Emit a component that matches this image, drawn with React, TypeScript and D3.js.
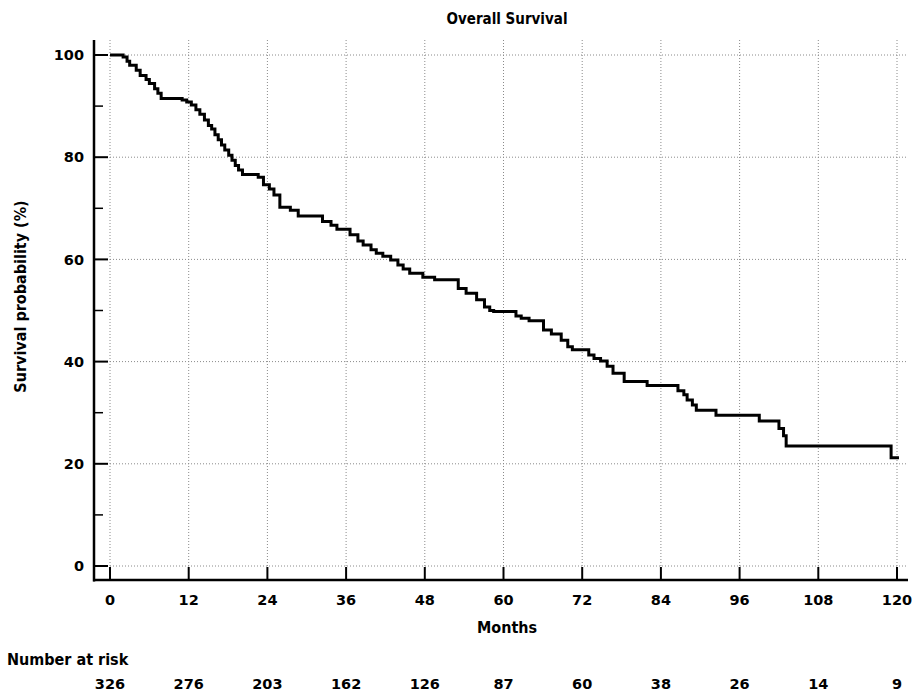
import React from "react";
import * as d3 from "d3";

// Kaplan-Meier step points: time (months) at which survival drops, and survival (%) after the drop
const times = [0, 2.0, 2.6, 3.0, 4.0, 4.6, 5.5, 6.0, 6.8, 7.3, 7.8, 11.0, 11.7, 12.4, 13.1, 13.7, 14.4, 15.0, 15.5, 16.0, 16.5, 17.0, 17.5, 18.1, 18.6, 19.1, 19.6, 20.2, 22.6, 23.4, 24.3, 25.0, 25.9, 27.5, 28.7, 32.4, 33.7, 34.6, 36.6, 37.8, 38.6, 39.8, 40.6, 41.6, 42.8, 43.9, 44.7, 45.7, 47.7, 49.5, 53.1, 54.3, 55.9, 57.1, 57.9, 58.5, 61.9, 62.7, 63.9, 66.1, 67.3, 68.8, 69.8, 70.5, 73.0, 73.8, 74.8, 75.8, 76.7, 78.4, 81.9, 86.6, 87.5, 88.0, 88.8, 89.4, 92.4, 99.0, 102.0, 102.7, 103.1, 119.1, 120.3];
const survival = [100, 99.6, 98.8, 98.0, 97.0, 96.0, 95.2, 94.4, 93.4, 92.5, 91.5, 91.2, 90.8, 90.2, 89.3, 88.4, 87.3, 86.2, 85.5, 84.4, 83.4, 82.4, 81.4, 80.4, 79.4, 78.4, 77.5, 76.6, 76.1, 74.6, 73.8, 72.6, 70.2, 69.6, 68.5, 67.4, 66.7, 65.9, 64.8, 63.6, 62.8, 61.9, 61.2, 60.6, 59.9, 58.9, 58.1, 57.3, 56.5, 56.0, 54.3, 53.4, 52.1, 50.7, 50.0, 49.8, 48.9, 48.5, 48.0, 46.2, 45.4, 44.2, 42.9, 42.3, 41.3, 40.6, 40.1, 39.1, 37.7, 36.1, 35.3, 34.3, 33.5, 32.5, 31.5, 30.5, 29.5, 28.4, 26.9, 25.5, 23.5, 21.2, 21.2];

const xTicks = [0, 12, 24, 36, 48, 60, 72, 84, 96, 108, 120];
const yTicks = [0, 20, 40, 60, 80, 100];
const yMinorTicks = [10, 30, 50, 70, 90];
const atRisk = [326, 276, 203, 162, 126, 87, 60, 38, 26, 14, 9];

const title = "Overall Survival";
const xLabel = "Months";
const yLabel = "Survival probability (%)";
const riskLabel = "Number at risk";

export default function App() {
  const W = 913, H = 693;
  const x = d3.scaleLinear().domain([0, 120]).range([110, 897]);
  const y = d3.scaleLinear().domain([0, 100]).range([566, 55]);
  const axisX = 94;
  const axisY = 580;
  const plotTop = 40;
  const plotRight = 908;

  const pts: [number, number][] = times.map((t, i) => [t, survival[i]]);
  const line = d3
    .line<[number, number]>()
    .x((d) => x(d[0]))
    .y((d) => y(d[1]))
    .curve(d3.curveStepAfter);

  const font = "'DejaVu Sans', Verdana, sans-serif";
  const condensed = "'DejaVu Sans Condensed', 'DejaVu Sans', sans-serif";
  const grid = "#8a8a8a";

  return (
    <svg
      width={W}
      height={H}
      style={{ position: "absolute", left: 0, top: 0, background: "#fff" }}
      fontFamily={font}
      fontWeight="bold"
    >
      <rect x={0} y={0} width={W} height={H} fill="#fff" />
      <text x={507} y={24} textAnchor="middle" fontSize={15} fontFamily={condensed}>
        {title}
      </text>

      {/* grid */}
      {xTicks.map((t) => (
        <line key={"gx" + t} x1={x(t)} x2={x(t)} y1={plotTop} y2={y(0)} stroke={grid} strokeWidth={1} strokeDasharray="1 2" />
      ))}
      {yTicks.map((v) => (
        <line key={"gy" + v} x1={x(0)} x2={plotRight} y1={y(v)} y2={y(v)} stroke={grid} strokeWidth={1} strokeDasharray="1 2" />
      ))}

      {/* y axis */}
      <line x1={axisX} x2={axisX} y1={plotTop} y2={axisY + 1.5} stroke="#000" strokeWidth={2.5} />
      {yTicks.map((v) => (
        <g key={"yt" + v}>
          <line x1={axisX} x2={108} y1={y(v)} y2={y(v)} stroke="#000" strokeWidth={2} />
          <text x={84} y={y(v)} dy="0.36em" textAnchor="end" fontSize={14.5}>
            {v}
          </text>
        </g>
      ))}
      {yMinorTicks.map((v) => (
        <line key={"ym" + v} x1={axisX} x2={103} y1={y(v)} y2={y(v)} stroke="#000" strokeWidth={1.5} />
      ))}

      {/* x axis */}
      <line x1={axisX - 1} x2={plotRight} y1={axisY} y2={axisY} stroke="#000" strokeWidth={2.5} />
      {xTicks.map((t) => (
        <g key={"xt" + t}>
          <line x1={x(t)} x2={x(t)} y1={axisY} y2={y(0) + 1} stroke="#000" strokeWidth={2} />
          <text x={x(t)} y={605} textAnchor="middle" fontSize={14.5}>
            {t}
          </text>
        </g>
      ))}

      {/* curve */}
      <path d={line(pts) || ""} fill="none" stroke="#000" strokeWidth={3} strokeLinejoin="miter" />

      {/* labels */}
      <text x={507} y={633} textAnchor="middle" fontSize={16} fontFamily={condensed}>
        {xLabel}
      </text>
      <text transform={`translate(26,${(y(0) + y(100)) / 2 - 14}) rotate(-90)`} textAnchor="middle" fontSize={16} fontFamily={condensed}>
        {yLabel}
      </text>
      <text x={7} y={665} fontSize={16} fontFamily={condensed}>
        {riskLabel}
      </text>
      {atRisk.map((n, i) => (
        <text key={"r" + i} x={x(xTicks[i])} y={689} textAnchor="middle" fontSize={14.5}>
          {n}
        </text>
      ))}
    </svg>
  );
}
